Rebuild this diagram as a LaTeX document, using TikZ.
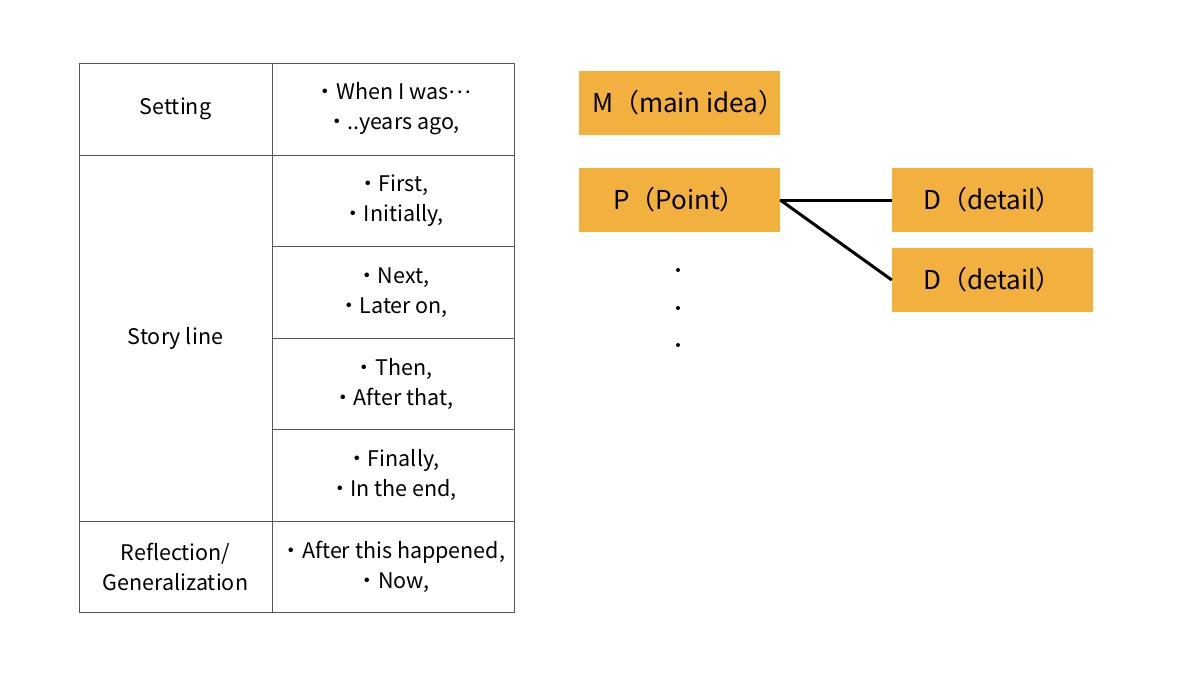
\documentclass[tikz,border=0pt]{standalone}
\usepackage{fontspec}
\setmainfont{Noto Sans CJK JP}
\definecolor{boxorange}{HTML}{F2B13E}
\definecolor{rulegray}{HTML}{555555}
\begin{document}
\begin{tikzpicture}[x=1pt,y=-1pt,
	cell/.style={draw=rulegray,line width=0.9pt,rectangle,inner sep=0,align=center,
	font=\fontsize{21.5}{30}\selectfont},
	idea/.style={fill=boxorange,rectangle,inner sep=0,minimum width=201pt,minimum height=64pt,
	font=\fontsize{26}{30}\selectfont},
	link/.style={line width=3pt}]
\useasboundingbox (0,0) rectangle (1200,675);
% left column
\node[cell,minimum width=193pt,minimum height=92pt] (set) at (175.5,109) {Setting};
\node[cell,minimum width=193pt,minimum height=366pt] (story) at (175.5,338) {Story line};
\node[cell,minimum width=193pt,minimum height=91pt] (refl) at (175.5,566.5) {Reflection/\\Generalization};
% right column
\node[cell,minimum width=242pt,minimum height=92pt] (c1) at (393,109) {・When I was\raisebox{0.3em}{…}\\・..years ago,};
\node[cell,minimum width=242pt,minimum height=91.5pt] (c2) at (393,200.75) {・First,\\・Initially,};
\node[cell,minimum width=242pt,minimum height=91.5pt] (c3) at (393,292.25) {・Next,\\・Later on,};
\node[cell,minimum width=242pt,minimum height=91.5pt] (c4) at (393,383.75) {・Then,\\・After that,};
\node[cell,minimum width=242pt,minimum height=91.5pt] (c5) at (393,475.25) {・Finally,\\・In the end,};
\node[cell,minimum width=242pt,minimum height=91pt] (c6) at (393,566.5) {・After this happened,\\・Now,};
% boxes
\node[idea] (main) at (679.5,103) {\makebox[201pt][l]{\hspace*{13pt}M（main idea）}};
\node[idea] (point) at (679.5,200) {P（Point）};
\node[idea] (det1) at (992.5,200) {D（detail）};
\node[idea] (det2) at (992.5,280) {D（detail）};
\draw[link] (point.east) -- (det1.west);
\draw[link] (point.east) -- (det2.west);
% dots
\foreach \y in {270,308,345}
	\fill (678,\y) circle (2pt);
\end{tikzpicture}
\end{document}
